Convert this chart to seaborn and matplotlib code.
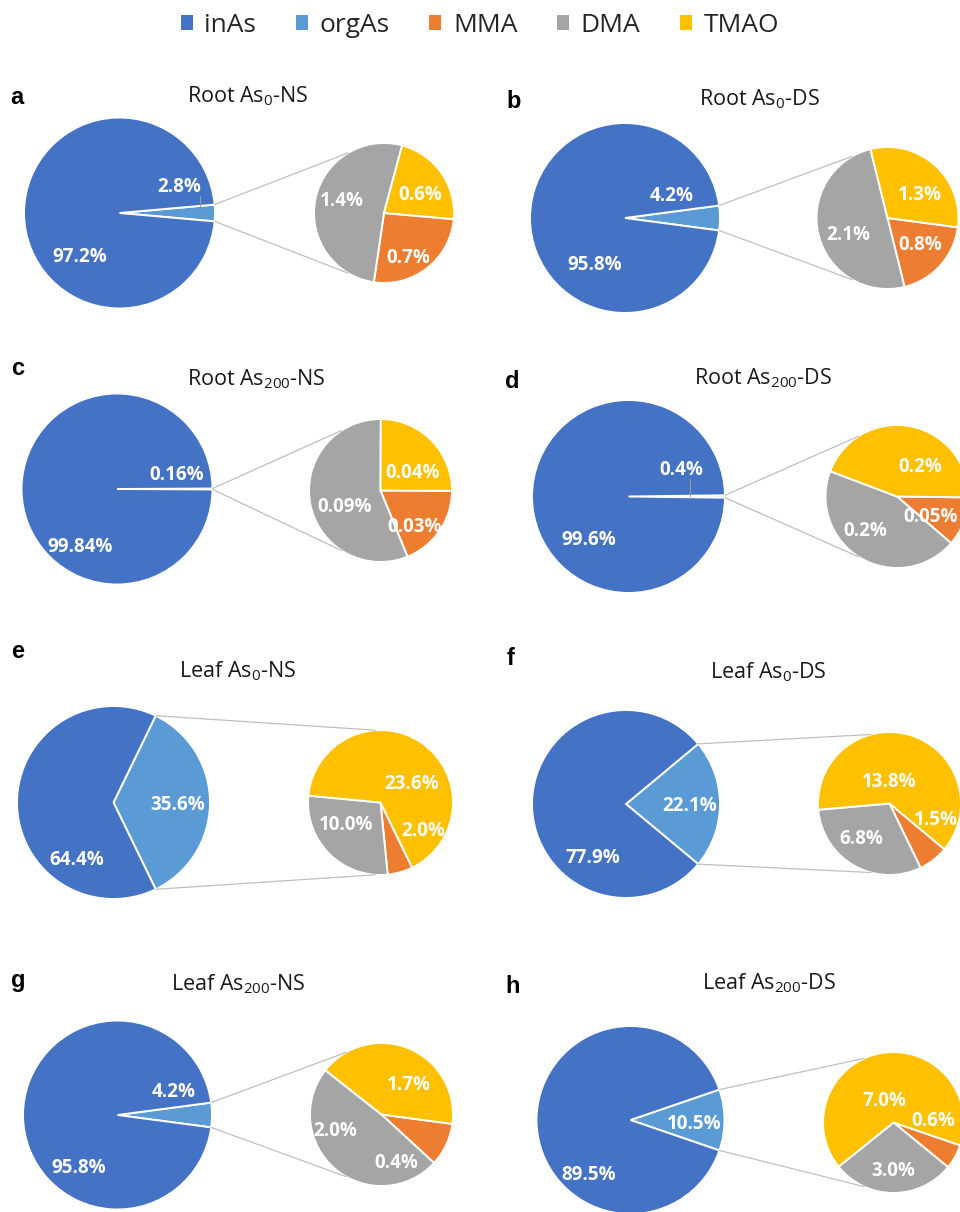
import numpy as np
import matplotlib
matplotlib.use("Agg")
import matplotlib.pyplot as plt
from matplotlib.patches import Patch
import seaborn as sns

# ---- data: arsenic species as % of total As ----
panel_tags = ["a", "b", "c", "d", "e", "f", "g", "h"]
tissues = ["Root", "Root", "Root", "Root", "Leaf", "Leaf", "Leaf", "Leaf"]
doses = ["0", "0", "200", "200", "0", "0", "200", "200"]
stresses = ["NS", "DS", "NS", "DS", "NS", "DS", "NS", "DS"]

species = ["inAs", "orgAs", "MMA", "DMA", "TMAO"]
inas = [97.2, 95.8, 99.84, 99.6, 64.4, 77.9, 95.8, 89.5]
orgas = [2.8, 4.2, 0.16, 0.4, 35.6, 22.1, 4.2, 10.5]
mma = [0.7, 0.8, 0.03, 0.05, 2.0, 1.5, 0.4, 0.6]
dma = [1.4, 2.1, 0.09, 0.2, 10.0, 6.8, 2.0, 3.0]
tmao = [0.6, 1.3, 0.04, 0.2, 23.6, 13.8, 1.7, 7.0]

# ---- layout (pixel units, y measured downward from the top edge) ----
W, H = 960, 1212
main_xy = [(119.5, 213), (625, 218), (117, 489), (628.5, 496.5),
           (113.5, 802.5), (626, 804), (117.5, 1115), (630.5, 1120)]
main_r = [95.5, 95, 95.5, 96.5, 96.5, 94, 94.5, 94]
sub_xy = [(384, 213), (887.5, 218), (380.5, 490.5), (897, 496.5),
          (380.5, 802.5), (889.5, 803.5), (381.5, 1114.5), (893.5, 1122.5)]
sub_r = [70, 71, 71.5, 71.5, 72.5, 71.5, 71.5, 70.5]

title_xy = [(247.5, 102), (759, 105), (256, 385), (763, 384),
            (237.5, 677), (768.5, 678), (238.5, 990), (768.5, 989)]
tag_xy = [(10, 104), (506, 108), (11, 375), (505, 388),
          (11, 658), (507, 665), (11, 987), (505, 993)]

# label offsets from the pie centre (dx, dy upward), pixels
inas_lab = [(-40, -44.5), (-30, -47), (-37, -58), (-39.5, -43.5),
            (-37, -57.5), (-33, -54), (-39, -53), (-41.5, -55)]
orgas_lab = [(59.5, 26.3), (47, 22), (60, 14), (53, 26.5),
             (64.5, -2.5), (64, -1.7), (56, 22.7), (63.5, -4)]
mma_lab = [(24, -45), (32.5, -27), (34.5, -36), (34, -20),
           (42.5, -28), (46.5, -16.5), (15, -48), (40, 1)]
dma_lab = [(-42, 12), (-39.5, -17), (-36, -16), (-32, -35),
           (-34, -23), (-28, -35), (-46, -17), (0, -49)]
tmao_lab = [(36, 18), (32.5, 23), (32.5, 18), (23, 30),
            (31.5, 18.5), (0, 21.5), (27, 29), (-9.5, 22)]
leader_r = [0.85, None, None, 0.64, None, None, None, None]

colors = sns.color_palette(["#4472C4", "#5B9BD5", "#ED7D31", "#A5A5A5", "#FFC000"])
c_in, c_org, c_mma, c_dma, c_tmao = colors
line_gray = "#BFBFBF"

sns.set_theme(style="white")
plt.rcParams["font.family"] = ["Open Sans", "DejaVu Sans"]
plt.rcParams["mathtext.fontset"] = "custom"
plt.rcParams["mathtext.rm"] = "Open Sans"
plt.rcParams["mathtext.it"] = "Open Sans:italic"
plt.rcParams["mathtext.bf"] = "Open Sans:bold"


def pct(v):
    s = np.format_float_positional(v, trim="-")
    if "." not in s:
        s += ".0"
    return s + "%"


fig = plt.figure(figsize=(W / 100, H / 100), dpi=100)
ax = fig.add_axes([0, 0, 1, 1])

wp = dict(edgecolor="white", linewidth=1.4)
lab_kw = dict(color="white", fontsize=13.5, fontweight="bold",
              ha="center", va="center", zorder=6)

for i in range(8):
    X, Y = main_xy[i][0], H - main_xy[i][1]
    SX, SY = sub_xy[i][0], H - sub_xy[i][1]
    r, sr = main_r[i], sub_r[i]
    half = orgas[i] / (inas[i] + orgas[i]) * 180.0

    # primary pie: orgAs wedge centred on 3 o'clock
    ax.pie([orgas[i], inas[i]], colors=[c_org, c_in], center=(X, Y), radius=r,
           startangle=-half, counterclock=True, wedgeprops=wp)
    # secondary pie: breakdown of orgAs, drawn clockwise
    ax.pie([mma[i], dma[i], tmao[i]], colors=[c_mma, c_dma, c_tmao],
           center=(SX, SY), radius=sr, startangle=-half, counterclock=False,
           wedgeprops=wp)

    # connector lines between the two pies
    a0 = np.deg2rad(half)
    phi = np.deg2rad(123 - 0.45 * half)
    for sgn in (1, -1):
        ax.plot([X + r * np.cos(a0), SX + sr * np.cos(phi)],
                [Y + sgn * r * np.sin(a0), SY + sgn * sr * np.sin(phi)],
                color=line_gray, lw=0.9, zorder=1, solid_capstyle="round")

    # value labels
    ax.text(X + inas_lab[i][0], Y + inas_lab[i][1], pct(inas[i]), **lab_kw)
    ax.text(X + orgas_lab[i][0], Y + orgas_lab[i][1], pct(orgas[i]), **lab_kw)
    ax.text(SX + mma_lab[i][0], SY + mma_lab[i][1], pct(mma[i]), **lab_kw)
    ax.text(SX + dma_lab[i][0], SY + dma_lab[i][1], pct(dma[i]), **lab_kw)
    ax.text(SX + tmao_lab[i][0], SY + tmao_lab[i][1], pct(tmao[i]), **lab_kw)

    if leader_r[i] is not None:
        lx = X + leader_r[i] * r * np.cos(a0)
        ly = Y + leader_r[i] * r * np.sin(a0)
        ax.plot([lx, lx], [ly, Y + orgas_lab[i][1] - 9], color="#9A9A9A",
                lw=0.8, zorder=7)

    # panel title and tag
    ax.text(title_xy[i][0], H - title_xy[i][1],
            tissues[i] + r" As$_{\mathregular{" + doses[i] + r"}}$-" + stresses[i],
            fontsize=15.5, color="#1a1a1a", ha="center", va="baseline")
    ax.text(tag_xy[i][0], H - tag_xy[i][1], panel_tags[i],
            fontsize=17, fontweight="bold", family=["Liberation Sans", "DejaVu Sans"],
            color="black", ha="left", va="baseline")

ax.set_xlim(0, W)
ax.set_ylim(0, H)
ax.set_aspect("auto")
ax.set_position([0, 0, 1, 1])
ax.set_axis_off()

handles = [Patch(facecolor=c, edgecolor="none") for c in colors]
fig.legend(handles, species, loc="center", bbox_to_anchor=(0.5, 1 - 25 / H),
           ncol=5, frameon=False, fontsize=19, handlelength=0.45,
           handleheight=0.5, handletextpad=0.45, columnspacing=1.5)

fig.savefig("out.png", dpi=100, facecolor="white")
